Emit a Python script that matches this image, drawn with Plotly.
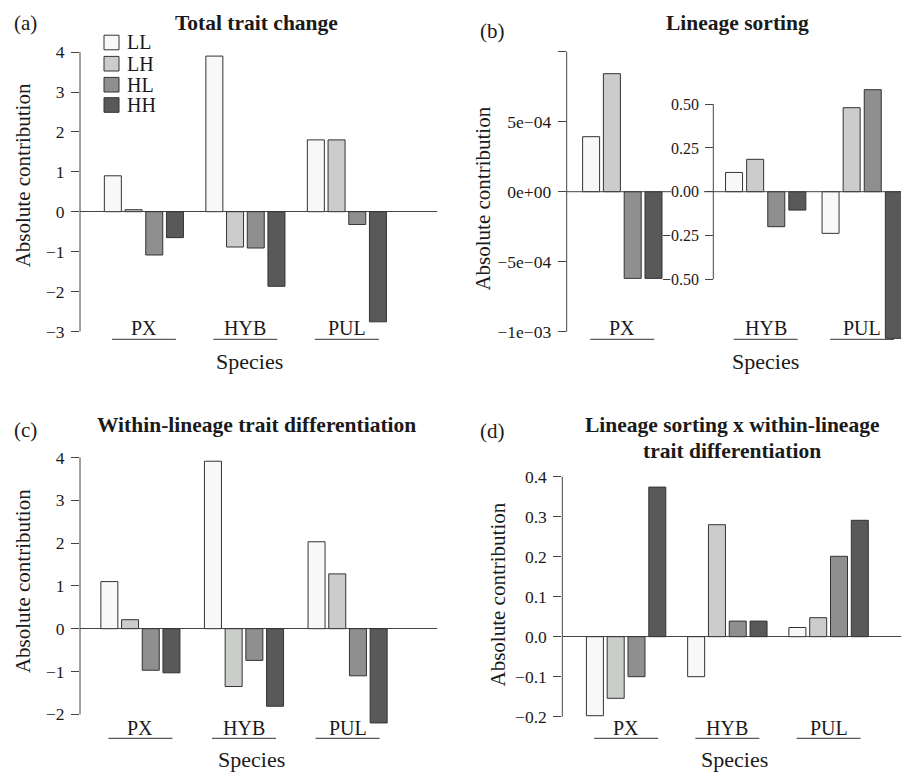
import plotly.graph_objects as go

W, H = 909, 773
OFF = 8  # default page margin of the html body
FW, FH = W - OFF, H - OFF

# ---------------- data ----------------
species = ["PX", "HYB", "PUL"]
genotypes = ["LL", "LH", "HL", "HH"]
bar_colors = ["#F8F8F8", "#CBCDCB", "#8F8F8F", "#595959"]

# (a) Total trait change  (columns: PX, HYB, PUL)
total_LL = [0.90, 3.90, 1.80]
total_LH = [0.05, -0.885, 1.80]
total_HL = [-1.085, -0.91, -0.32]
total_HH = [-0.65, -1.87, -2.76]

# (b) Lineage sorting: PX on its own scale, HYB & PUL on a second scale
sort_species_px = ["PX"]
sort_px_LL = [3.93e-4]
sort_px_LH = [8.43e-4]
sort_px_HL = [-6.19e-4]
sort_px_HH = [-6.19e-4]
sort_species_other = ["HYB", "PUL"]
sort_oth_LL = [0.11, -0.238]
sort_oth_LH = [0.185, 0.48]
sort_oth_HL = [-0.20, 0.583]
sort_oth_HH = [-0.105, -0.838]

# (c) Within-lineage trait differentiation
within_LL = [1.10, 3.91, 2.03]
within_LH = [0.21, -1.35, 1.28]
within_HL = [-0.97, -0.74, -1.10]
within_HH = [-1.03, -1.81, -2.20]

# (d) Lineage sorting x within-lineage trait differentiation
inter_LL = [-0.1975, -0.10, 0.023]
inter_LH = [-0.154, 0.28, 0.0475]
inter_HL = [-0.10, 0.039, 0.201]
inter_HH = [0.374, 0.039, 0.291]

# tick labels
ticks_a = [-3, -2, -1, 0, 1, 2, 3, 4]
ticks_b_main = [-1e-3, -5e-4, 0, 5e-4, 1e-3]
ticklabels_b_main = ["\u22121e\u221203", "\u22125e\u221204", "0e+00", "5e\u221204", ""]
ticks_b_second = [-0.5, -0.25, 0, 0.25, 0.5]
ticklabels_b_second = ["\u22120.50", "\u22120.25", "0.00", "0.25", "0.50"]
ticks_c = [-2, -1, 0, 1, 2, 3, 4]
ticks_d = [-0.2, -0.1, 0.0, 0.1, 0.2, 0.3, 0.4]


def fmt_int(v):
    return ("\u2212" if v < 0 else "") + str(abs(v))


def fmt_1(v):
    return ("\u2212" if v < -1e-9 else "") + f"{abs(v):.1f}"


# ---------------- helpers (layout geometry in page pixels) ----------------
def pxx(p):
    return (p - OFF) / FW


def pxy(p):
    return 1 - (p - OFF) / FH


def yrange(top_px, bot_px, zero_px, ppu):
    return [-(bot_px - zero_px) / ppu, (zero_px - top_px) / ppu]


def xrange(left_px, right_px, first_center_px, step_px):
    return [(left_px - first_center_px) / step_px, (right_px - first_center_px) / step_px]


FONT = "Liberation Serif, DejaVu Serif, Times New Roman, serif"
AX = "#444444"
EDGE = "#333333"
TXT = "#1a1a1a"

fig = go.Figure()
shapes = []
annotations = []


def add_bars(series, cats, xa, ya, step_px, slot_px=20.7, bar_px=17.0):
    slot = slot_px / step_px
    w = bar_px / step_px
    for j, vals in enumerate(series):
        fig.add_trace(go.Bar(
            x=cats, y=vals, xaxis=xa, yaxis=ya, name=genotypes[j],
            width=w, offset=(j - 2) * slot + (slot - w) / 2,
            marker=dict(color=bar_colors[j], line=dict(color=EDGE, width=1)),
            showlegend=False,
        ))


def yaxis_common(domain_px, rng, tickvals, ticktext, size=17.5, zeroline=True):
    return dict(
        domain=[pxy(domain_px[1]), pxy(domain_px[0])], range=rng,
        tickmode="array", tickvals=tickvals, ticktext=ticktext,
        ticks="outside", ticklen=8, tickwidth=1, tickcolor=AX,
        showline=False, showgrid=False,
        zeroline=zeroline, zerolinecolor=AX, zerolinewidth=1,
        tickfont=dict(family=FONT, size=size, color=TXT),
        ticklabelstandoff=3, fixedrange=True,
    )


def xaxis_common(domain_px, rng, cats):
    return dict(
        domain=[pxx(domain_px[0]), min(1.0, pxx(domain_px[1]))], range=rng,
        type="category", categoryorder="array", categoryarray=cats,
        visible=False, fixedrange=True,
    )


def axis_line(xref, x, yref, y0, y1):
    shapes.append(dict(type="line", xref=xref, yref=yref, x0=x, x1=x, y0=y0, y1=y1,
                       line=dict(color=AX, width=1)))


def group_labels(xref, cats, y_label_px, y_line_px, half_units):
    for i, c in enumerate(cats):
        annotations.append(dict(xref=xref, yref="paper", x=i, y=pxy(y_label_px), text=c,
                                showarrow=False, xanchor="center", yanchor="middle",
                                font=dict(family=FONT, size=20, color=TXT)))
        shapes.append(dict(type="line", xref=xref, yref="paper", x0=i - half_units, x1=i + half_units,
                           y0=pxy(y_line_px), y1=pxy(y_line_px), line=dict(color=EDGE, width=1)))


def text(xp, yp, s, size, angle=0, anchor="center"):
    annotations.append(dict(xref="paper", yref="paper", x=pxx(xp), y=pxy(yp), text=s,
                            showarrow=False, xanchor=anchor, yanchor="middle", textangle=angle,
                            font=dict(family=FONT, size=size, color=TXT)))


layout = {}

# ---------------- panel (a) ----------------
a_step, a_first = 101.5, 143.9
add_bars([total_LL, total_LH, total_HL, total_HH], species, "x", "y", a_step)
layout["xaxis"] = xaxis_common([80, 436.7], xrange(80, 436.7, a_first, a_step), species)
layout["xaxis"]["anchor"] = "y"
layout["yaxis"] = yaxis_common([41.1, 342.9], yrange(41.1, 342.9, 211.7, 39.9),
                               ticks_a, [fmt_int(v) for v in ticks_a])
layout["yaxis"]["anchor"] = "x"
axis_line("x domain", 0, "y", min(ticks_a), max(ticks_a))
group_labels("x", species, 327.5, 339.3, 32 / a_step)

# ---------------- panel (b) ----------------
b_step = 96.5
add_bars([sort_px_LL, sort_px_LH, sort_px_HL, sort_px_HH], sort_species_px, "x2", "y2", b_step, slot_px=20.8)
add_bars([sort_oth_LL, sort_oth_LH, sort_oth_HL, sort_oth_HH], sort_species_other, "x3", "y3", b_step, slot_px=21.1)
layout["xaxis2"] = xaxis_common([566.7, 909], xrange(566.7, 909, 622.3, b_step), sort_species_px)
layout["xaxis2"]["anchor"] = "y2"
layout["yaxis2"] = yaxis_common([41.1, 342.9], yrange(41.1, 342.9, 191.7, 70 / 5e-4),
                                ticks_b_main, ticklabels_b_main, zeroline=False)
layout["yaxis2"]["anchor"] = "x2"
layout["xaxis3"] = dict(overlaying="x2", range=xrange(566.7, 909, 765.7, b_step),
                        type="category", categoryorder="array", categoryarray=sort_species_other,
                        visible=False, fixedrange=True)
y3 = yaxis_common([41.1, 342.9], yrange(41.1, 342.9, 191.7, 175.0),
                  ticks_b_second, ticklabels_b_second, size=16, zeroline=False)
y3.pop("domain")
y3.update(overlaying="y2", anchor="free", position=pxx(713.3), side="left")
layout["yaxis3"] = y3
axis_line("x2 domain", 0, "y2", min(ticks_b_main), max(ticks_b_main))
axis_line("paper", pxx(713.3), "y3", min(ticks_b_second), max(ticks_b_second))
# zero lines of the two overlaid plots
shapes.append(dict(type="line", xref="paper", yref="y2", x0=pxx(566.7), x1=pxx(671), y0=0, y1=0,
                   line=dict(color=AX, width=1)))
shapes.append(dict(type="line", xref="paper", yref="y3", x0=pxx(704), x1=1.0, y0=0, y1=0,
                   line=dict(color=AX, width=1)))
group_labels("x2", sort_species_px, 327.5, 339.3, 32 / b_step)
group_labels("x3", sort_species_other, 327.5, 339.3, 32 / b_step)

# ---------------- panel (c) ----------------
c_step, c_first = 103.6, 140.4
add_bars([within_LL, within_LH, within_HL, within_HH], species, "x4", "y4", c_step)
layout["xaxis4"] = xaxis_common([80, 436.7], xrange(80, 436.7, c_first, c_step), species)
layout["xaxis4"]["anchor"] = "y4"
layout["yaxis4"] = yaxis_common([446, 726], yrange(446, 726, 628.7, 42.83),
                                ticks_c, [fmt_int(v) for v in ticks_c])
layout["yaxis4"]["anchor"] = "x4"
axis_line("x4 domain", 0, "y4", min(ticks_c), max(ticks_c))
group_labels("x4", species, 727.5, 738.3, 32 / c_step)

# ---------------- panel (d) ----------------
d_step, d_first = 101.25, 626.1
add_bars([inter_LL, inter_LH, inter_HL, inter_HH], species, "x5", "y5", d_step, slot_px=20.8)
layout["xaxis5"] = xaxis_common([562.3, 909], xrange(562.3, 909, d_first, d_step), species)
layout["xaxis5"]["anchor"] = "y5"
layout["yaxis5"] = yaxis_common([466, 726], yrange(466, 726, 636.7, 400.0),
                                ticks_d, [fmt_1(v) for v in ticks_d])
layout["yaxis5"]["anchor"] = "x5"
axis_line("x5 domain", 0, "y5", min(ticks_d), max(ticks_d))
group_labels("x5", species, 727.5, 738.3, 32 / d_step)

# ---------------- texts ----------------
text(256.7, 23.3, "<b>Total trait change</b>", 21.5)
text(737, 23.3, "<b>Lineage sorting</b>", 21.5)
text(256.7, 425, "<b>Within-lineage trait differentiation</b>", 21.5)
text(732.2, 425, "<b>Lineage sorting x within-lineage</b>", 21.5)
text(732.2, 450.7, "<b>trait differentiation</b>", 21.5)

text(25, 23.3, "(a)", 21)
text(492, 30.5, "(b)", 21)
text(25.8, 430, "(c)", 21)
text(492.5, 431, "(d)", 21)

text(23.3, 175, "Absolute contribution", 21, angle=-90)
text(483.3, 198.3, "Absolute contribution", 21, angle=-90)
text(22.3, 580.8, "Absolute contribution", 21, angle=-90)
text(498.3, 594.2, "Absolute contribution", 21, angle=-90)

text(249.7, 361, "Species", 22)
text(765.8, 361, "Species", 22)
text(251.7, 759, "Species", 22)
text(734.2, 759, "Species", 22)

# ---------------- legend (panel a) ----------------
leg_rows = [42.5, 63.7, 84.7, 105.0]
for j, g in enumerate(genotypes):
    yc = leg_rows[j]
    shapes.append(dict(type="rect", xref="paper", yref="paper",
                       x0=pxx(104), x1=pxx(119), y0=pxy(yc + 7.3), y1=pxy(yc - 7.3),
                       fillcolor=bar_colors[j], line=dict(color=EDGE, width=1)))
    text(125.2, yc, g, 20, anchor="left")

fig.update_layout(
    width=FW, height=FH, margin=dict(l=0, r=0, t=0, b=0),
    paper_bgcolor="white", plot_bgcolor="rgba(0,0,0,0)",
    barmode="overlay", showlegend=False,
    font=dict(family=FONT, color=TXT),
    shapes=shapes, annotations=annotations,
    **layout,
)

fig.write_html("out.html")
